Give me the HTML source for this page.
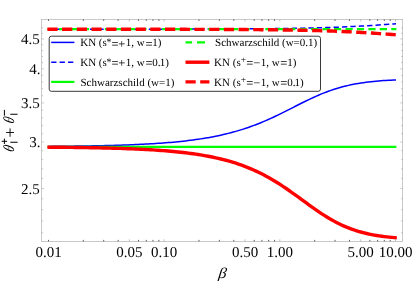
<!DOCTYPE html>
<html><head><meta charset="utf-8"><title>plot</title>
<style>text{text-rendering:geometricPrecision}html,body{margin:0;padding:0;background:#fff;}body{width:413px;height:281px;overflow:hidden;font-family:"Liberation Serif",serif;}</style>
</head><body>
<svg width="413" height="281" viewBox="0 0 413 281" style="display:block;will-change:transform">
<rect width="413" height="281" fill="#fff"/>
<g fill="none" stroke-linecap="butt" stroke-linejoin="round">
<path d="M48.00,146.40 L50.50,146.38 L53.01,146.36 L55.51,146.33 L58.01,146.31 L60.52,146.29 L63.02,146.26 L65.53,146.24 L68.03,146.21 L70.53,146.18 L73.04,146.15 L75.54,146.12 L78.04,146.08 L80.55,146.05 L83.05,146.01 L85.56,145.97 L88.06,145.93 L90.56,145.88 L93.07,145.84 L95.57,145.79 L98.07,145.74 L100.58,145.69 L103.08,145.63 L105.58,145.57 L108.09,145.51 L110.59,145.44 L113.10,145.38 L115.60,145.30 L118.10,145.23 L120.61,145.15 L123.11,145.07 L125.61,144.98 L128.12,144.89 L130.62,144.79 L133.12,144.69 L135.63,144.58 L138.13,144.47 L140.64,144.35 L143.14,144.23 L145.64,144.10 L148.15,143.97 L150.65,143.82 L153.15,143.67 L155.66,143.52 L158.16,143.35 L160.67,143.18 L163.17,142.99 L165.67,142.80 L168.18,142.60 L170.68,142.39 L173.18,142.17 L175.69,141.94 L178.19,141.69 L180.69,141.43 L183.20,141.17 L185.70,140.88 L188.21,140.59 L190.71,140.28 L193.21,139.95 L195.72,139.61 L198.22,139.25 L200.72,138.88 L203.23,138.48 L205.73,138.07 L208.23,137.64 L210.74,137.19 L213.24,136.72 L215.75,136.22 L218.25,135.71 L220.75,135.17 L223.26,134.60 L225.76,134.01 L228.26,133.39 L230.77,132.75 L233.27,132.08 L235.78,131.38 L238.28,130.65 L240.78,129.89 L243.29,129.10 L245.79,128.28 L248.29,127.43 L250.80,126.55 L253.30,125.64 L255.80,124.69 L258.31,123.71 L260.81,122.70 L263.32,121.66 L265.82,120.59 L268.32,119.49 L270.83,118.37 L273.33,117.21 L275.83,116.03 L278.34,114.83 L280.84,113.61 L283.34,112.37 L285.85,111.12 L288.35,109.86 L290.86,108.59 L293.36,107.31 L295.86,106.04 L298.37,104.76 L300.87,103.50 L303.37,102.25 L305.88,101.02 L308.38,99.80 L310.89,98.61 L313.39,97.45 L315.89,96.32 L318.40,95.23 L320.90,94.17 L323.40,93.15 L325.91,92.18 L328.41,91.25 L330.91,90.36 L333.42,89.51 L335.92,88.71 L338.43,87.96 L340.93,87.25 L343.43,86.58 L345.94,85.96 L348.44,85.38 L350.94,84.83 L353.45,84.33 L355.95,83.86 L358.45,83.43 L360.96,83.03 L363.46,82.66 L365.97,82.32 L368.47,82.01 L370.97,81.72 L373.48,81.46 L375.98,81.22 L378.48,81.00 L380.99,80.80 L383.49,80.61 L386.00,80.44 L388.50,80.29 L391.00,80.15 L393.51,80.02 L396.01,79.91" stroke="#0000ff" stroke-width="1.5"/>
<path d="M48.00,29.21 L50.50,29.21 L53.01,29.21 L55.51,29.21 L58.01,29.21 L60.52,29.21 L63.02,29.21 L65.53,29.21 L68.03,29.21 L70.53,29.21 L73.04,29.21 L75.54,29.21 L78.04,29.21 L80.55,29.21 L83.05,29.21 L85.56,29.21 L88.06,29.21 L90.56,29.21 L93.07,29.20 L95.57,29.20 L98.07,29.20 L100.58,29.20 L103.08,29.20 L105.58,29.20 L108.09,29.20 L110.59,29.20 L113.10,29.20 L115.60,29.20 L118.10,29.19 L120.61,29.19 L123.11,29.19 L125.61,29.19 L128.12,29.19 L130.62,29.19 L133.12,29.18 L135.63,29.18 L138.13,29.18 L140.64,29.18 L143.14,29.18 L145.64,29.17 L148.15,29.17 L150.65,29.17 L153.15,29.17 L155.66,29.16 L158.16,29.16 L160.67,29.16 L163.17,29.16 L165.67,29.15 L168.18,29.15 L170.68,29.14 L173.18,29.14 L175.69,29.14 L178.19,29.13 L180.69,29.13 L183.20,29.12 L185.70,29.12 L188.21,29.11 L190.71,29.11 L193.21,29.10 L195.72,29.10 L198.22,29.09 L200.72,29.08 L203.23,29.08 L205.73,29.07 L208.23,29.06 L210.74,29.05 L213.24,29.04 L215.75,29.03 L218.25,29.02 L220.75,29.01 L223.26,29.00 L225.76,28.99 L228.26,28.98 L230.77,28.97 L233.27,28.96 L235.78,28.94 L238.28,28.93 L240.78,28.91 L243.29,28.90 L245.79,28.88 L248.29,28.86 L250.80,28.85 L253.30,28.83 L255.80,28.81 L258.31,28.79 L260.81,28.76 L263.32,28.74 L265.82,28.71 L268.32,28.69 L270.83,28.66 L273.33,28.63 L275.83,28.60 L278.34,28.57 L280.84,28.54 L283.34,28.51 L285.85,28.47 L288.35,28.43 L290.86,28.39 L293.36,28.35 L295.86,28.30 L298.37,28.26 L300.87,28.21 L303.37,28.16 L305.88,28.11 L308.38,28.05 L310.89,27.99 L313.39,27.93 L315.89,27.86 L318.40,27.80 L320.90,27.73 L323.40,27.65 L325.91,27.57 L328.41,27.49 L330.91,27.41 L333.42,27.32 L335.92,27.23 L338.43,27.13 L340.93,27.03 L343.43,26.92 L345.94,26.82 L348.44,26.70 L350.94,26.58 L353.45,26.46 L355.95,26.33 L358.45,26.20 L360.96,26.06 L363.46,25.92 L365.97,25.78 L368.47,25.63 L370.97,25.47 L373.48,25.31 L375.98,25.15 L378.48,24.99 L380.99,24.82 L383.49,24.65 L386.00,24.47 L388.50,24.30 L391.00,24.12 L393.51,23.94 L396.01,23.76" stroke="#0000ff" stroke-width="1.5" stroke-dasharray="5.3 3.1"/>
<path d="M47.60,146.78 L50.11,146.78 L52.62,146.78 L55.13,146.78 L57.64,146.78 L60.15,146.78 L62.66,146.78 L65.17,146.78 L67.68,146.78 L70.18,146.78 L72.69,146.78 L75.20,146.78 L77.71,146.78 L80.22,146.78 L82.73,146.78 L85.24,146.78 L87.75,146.78 L90.26,146.78 L92.77,146.78 L95.28,146.78 L97.79,146.78 L100.30,146.78 L102.81,146.78 L105.32,146.78 L107.83,146.78 L110.34,146.78 L112.85,146.78 L115.35,146.78 L117.86,146.78 L120.37,146.78 L122.88,146.78 L125.39,146.78 L127.90,146.78 L130.41,146.78 L132.92,146.78 L135.43,146.78 L137.94,146.78 L140.45,146.78 L142.96,146.78 L145.47,146.78 L147.98,146.78 L150.49,146.78 L153.00,146.78 L155.51,146.78 L158.01,146.78 L160.52,146.78 L163.03,146.78 L165.54,146.78 L168.05,146.78 L170.56,146.78 L173.07,146.78 L175.58,146.78 L178.09,146.78 L180.60,146.78 L183.11,146.78 L185.62,146.78 L188.13,146.78 L190.64,146.78 L193.15,146.78 L195.66,146.78 L198.17,146.78 L200.67,146.78 L203.18,146.78 L205.69,146.78 L208.20,146.78 L210.71,146.78 L213.22,146.78 L215.73,146.78 L218.24,146.78 L220.75,146.78 L223.26,146.78 L225.77,146.78 L228.28,146.78 L230.79,146.78 L233.30,146.78 L235.81,146.78 L238.32,146.78 L240.83,146.78 L243.34,146.78 L245.84,146.78 L248.35,146.78 L250.86,146.78 L253.37,146.78 L255.88,146.78 L258.39,146.78 L260.90,146.78 L263.41,146.78 L265.92,146.78 L268.43,146.78 L270.94,146.78 L273.45,146.78 L275.96,146.78 L278.47,146.78 L280.98,146.78 L283.49,146.78 L286.00,146.78 L288.50,146.78 L291.01,146.78 L293.52,146.78 L296.03,146.78 L298.54,146.78 L301.05,146.78 L303.56,146.78 L306.07,146.78 L308.58,146.78 L311.09,146.78 L313.60,146.78 L316.11,146.78 L318.62,146.78 L321.13,146.78 L323.64,146.78 L326.15,146.78 L328.66,146.78 L331.16,146.78 L333.67,146.78 L336.18,146.78 L338.69,146.78 L341.20,146.78 L343.71,146.78 L346.22,146.78 L348.73,146.78 L351.24,146.78 L353.75,146.78 L356.26,146.78 L358.77,146.78 L361.28,146.78 L363.79,146.78 L366.30,146.78 L368.81,146.78 L371.32,146.78 L373.83,146.78 L376.33,146.78 L378.84,146.78 L381.35,146.78 L383.86,146.78 L386.37,146.78 L388.88,146.78 L391.39,146.78 L393.90,146.78 L396.41,146.78" stroke="#00ff00" stroke-width="2.2"/>
<path d="M47.60,29.22 L50.11,29.22 L52.62,29.22 L55.13,29.22 L57.64,29.22 L60.15,29.22 L62.66,29.22 L65.17,29.22 L67.68,29.22 L70.18,29.22 L72.69,29.22 L75.20,29.22 L77.71,29.22 L80.22,29.22 L82.73,29.22 L85.24,29.22 L87.75,29.22 L90.26,29.22 L92.77,29.22 L95.28,29.22 L97.79,29.22 L100.30,29.22 L102.81,29.22 L105.32,29.22 L107.83,29.22 L110.34,29.22 L112.85,29.22 L115.35,29.22 L117.86,29.22 L120.37,29.22 L122.88,29.22 L125.39,29.22 L127.90,29.22 L130.41,29.22 L132.92,29.22 L135.43,29.22 L137.94,29.22 L140.45,29.22 L142.96,29.22 L145.47,29.22 L147.98,29.22 L150.49,29.22 L153.00,29.22 L155.51,29.22 L158.01,29.22 L160.52,29.22 L163.03,29.22 L165.54,29.22 L168.05,29.22 L170.56,29.22 L173.07,29.22 L175.58,29.22 L178.09,29.22 L180.60,29.22 L183.11,29.22 L185.62,29.22 L188.13,29.22 L190.64,29.22 L193.15,29.22 L195.66,29.22 L198.17,29.22 L200.67,29.22 L203.18,29.22 L205.69,29.22 L208.20,29.22 L210.71,29.22 L213.22,29.22 L215.73,29.22 L218.24,29.22 L220.75,29.22 L223.26,29.22 L225.77,29.22 L228.28,29.22 L230.79,29.22 L233.30,29.22 L235.81,29.22 L238.32,29.22 L240.83,29.22 L243.34,29.22 L245.84,29.22 L248.35,29.22 L250.86,29.22 L253.37,29.22 L255.88,29.22 L258.39,29.22 L260.90,29.22 L263.41,29.22 L265.92,29.22 L268.43,29.22 L270.94,29.22 L273.45,29.22 L275.96,29.22 L278.47,29.22 L280.98,29.22 L283.49,29.22 L286.00,29.22 L288.50,29.22 L291.01,29.22 L293.52,29.22 L296.03,29.22 L298.54,29.22 L301.05,29.22 L303.56,29.22 L306.07,29.22 L308.58,29.22 L311.09,29.22 L313.60,29.22 L316.11,29.22 L318.62,29.22 L321.13,29.22 L323.64,29.22 L326.15,29.22 L328.66,29.22 L331.16,29.22 L333.67,29.22 L336.18,29.22 L338.69,29.22 L341.20,29.22 L343.71,29.22 L346.22,29.22 L348.73,29.22 L351.24,29.22 L353.75,29.22 L356.26,29.22 L358.77,29.22 L361.28,29.22 L363.79,29.22 L366.30,29.22 L368.81,29.22 L371.32,29.22 L373.83,29.22 L376.33,29.22 L378.84,29.22 L381.35,29.22 L383.86,29.22 L386.37,29.22 L388.88,29.22 L391.39,29.22 L393.90,29.22 L396.41,29.22" stroke="#00ff00" stroke-width="2.2" stroke-dasharray="7.2 4.256"/>
<path d="M47.35,147.16 L49.86,147.18 L52.38,147.20 L54.89,147.23 L57.41,147.25 L59.92,147.27 L62.44,147.30 L64.95,147.32 L67.47,147.35 L69.98,147.38 L72.49,147.41 L75.01,147.44 L77.52,147.48 L80.04,147.51 L82.55,147.55 L85.07,147.59 L87.58,147.63 L90.10,147.68 L92.61,147.72 L95.12,147.77 L97.64,147.82 L100.15,147.87 L102.67,147.93 L105.18,147.99 L107.70,148.05 L110.21,148.12 L112.73,148.19 L115.24,148.26 L117.75,148.33 L120.27,148.41 L122.78,148.50 L125.30,148.59 L127.81,148.68 L130.33,148.78 L132.84,148.88 L135.36,148.99 L137.87,149.10 L140.39,149.22 L142.90,149.35 L145.41,149.48 L147.93,149.62 L150.44,149.76 L152.96,149.92 L155.47,150.08 L157.99,150.25 L160.50,150.43 L163.02,150.62 L165.53,150.81 L168.04,151.02 L170.56,151.24 L173.07,151.47 L175.59,151.71 L178.10,151.97 L180.62,152.24 L183.13,152.52 L185.65,152.81 L188.16,153.13 L190.67,153.45 L193.19,153.80 L195.70,154.16 L198.22,154.54 L200.73,154.94 L203.25,155.36 L205.76,155.81 L208.28,156.27 L210.79,156.76 L213.30,157.27 L215.82,157.81 L218.33,158.38 L220.85,158.98 L223.36,159.60 L225.88,160.26 L228.39,160.95 L230.91,161.67 L233.42,162.43 L235.93,163.23 L238.45,164.06 L240.96,164.94 L243.48,165.85 L245.99,166.81 L248.51,167.81 L251.02,168.86 L253.54,169.95 L256.05,171.09 L258.56,172.28 L261.08,173.52 L263.59,174.80 L266.11,176.14 L268.62,177.52 L271.14,178.96 L273.65,180.44 L276.17,181.97 L278.68,183.55 L281.19,185.17 L283.71,186.83 L286.22,188.53 L288.74,190.26 L291.25,192.03 L293.77,193.82 L296.28,195.63 L298.80,197.46 L301.31,199.29 L303.82,201.13 L306.34,202.97 L308.85,204.79 L311.37,206.60 L313.88,208.39 L316.40,210.14 L318.91,211.86 L321.43,213.54 L323.94,215.17 L326.46,216.75 L328.97,218.27 L331.48,219.73 L334.00,221.13 L336.51,222.47 L339.03,223.74 L341.54,224.94 L344.06,226.08 L346.57,227.15 L349.09,228.15 L351.60,229.09 L354.11,229.97 L356.63,230.79 L359.14,231.55 L361.66,232.26 L364.17,232.91 L366.69,233.51 L369.20,234.07 L371.72,234.58 L374.23,235.05 L376.74,235.48 L379.26,235.88 L381.77,236.24 L384.29,236.57 L386.80,236.88 L389.32,237.15 L391.83,237.40 L394.35,237.64 L396.86,237.84" stroke="#ff0000" stroke-width="3.4"/>
<path d="M47.35,29.23 L49.86,29.23 L52.38,29.23 L54.89,29.23 L57.41,29.23 L59.92,29.23 L62.44,29.23 L64.95,29.23 L67.47,29.23 L69.98,29.23 L72.49,29.23 L75.01,29.23 L77.52,29.23 L80.04,29.23 L82.55,29.23 L85.07,29.23 L87.58,29.24 L90.10,29.24 L92.61,29.24 L95.12,29.24 L97.64,29.24 L100.15,29.24 L102.67,29.24 L105.18,29.24 L107.70,29.24 L110.21,29.24 L112.73,29.24 L115.24,29.25 L117.75,29.25 L120.27,29.25 L122.78,29.25 L125.30,29.25 L127.81,29.25 L130.33,29.25 L132.84,29.26 L135.36,29.26 L137.87,29.26 L140.39,29.26 L142.90,29.26 L145.41,29.27 L147.93,29.27 L150.44,29.27 L152.96,29.27 L155.47,29.28 L157.99,29.28 L160.50,29.28 L163.02,29.29 L165.53,29.29 L168.04,29.29 L170.56,29.30 L173.07,29.30 L175.59,29.30 L178.10,29.31 L180.62,29.31 L183.13,29.32 L185.65,29.32 L188.16,29.33 L190.67,29.33 L193.19,29.34 L195.70,29.35 L198.22,29.35 L200.73,29.36 L203.25,29.37 L205.76,29.37 L208.28,29.38 L210.79,29.39 L213.30,29.40 L215.82,29.41 L218.33,29.42 L220.85,29.43 L223.36,29.44 L225.88,29.45 L228.39,29.46 L230.91,29.47 L233.42,29.49 L235.93,29.50 L238.45,29.51 L240.96,29.53 L243.48,29.55 L245.99,29.56 L248.51,29.58 L251.02,29.60 L253.54,29.62 L256.05,29.64 L258.56,29.66 L261.08,29.68 L263.59,29.71 L266.11,29.73 L268.62,29.76 L271.14,29.78 L273.65,29.81 L276.17,29.84 L278.68,29.88 L281.19,29.91 L283.71,29.94 L286.22,29.98 L288.74,30.02 L291.25,30.06 L293.77,30.10 L296.28,30.15 L298.80,30.20 L301.31,30.24 L303.82,30.30 L306.34,30.35 L308.85,30.41 L311.37,30.47 L313.88,30.53 L316.40,30.60 L318.91,30.67 L321.43,30.74 L323.94,30.82 L326.46,30.90 L328.97,30.98 L331.48,31.07 L334.00,31.16 L336.51,31.25 L339.03,31.35 L341.54,31.46 L344.06,31.56 L346.57,31.68 L349.09,31.80 L351.60,31.92 L354.11,32.05 L356.63,32.18 L359.14,32.32 L361.66,32.46 L364.17,32.60 L366.69,32.76 L369.20,32.91 L371.72,33.07 L374.23,33.24 L376.74,33.41 L379.26,33.58 L381.77,33.76 L384.29,33.94 L386.80,34.12 L389.32,34.30 L391.83,34.49 L394.35,34.67 L396.86,34.86" stroke="#ff0000" stroke-width="3.4" stroke-dasharray="10.2 4.51"/>
</g>
<rect x="41.5" y="19.4" width="361.2" height="222.0" fill="none" stroke="#a6a6a6" stroke-width="0.6"/>
<path d="M129.35,241.4 v-2.1 M129.35,19.4 v2.1 M164.17,241.4 v-2.1 M164.17,19.4 v2.1 M245.02,241.4 v-2.1 M245.02,19.4 v2.1 M279.84,241.4 v-2.1 M279.84,19.4 v2.1 M360.69,241.4 v-2.1 M360.69,19.4 v2.1 M395.51,241.4 v-2.1 M395.51,19.4 v2.1" stroke="#9a9a9a" stroke-width="0.6" fill="none"/>
<path d="M48.50,241.4 v-1.5 M48.50,19.4 v1.5 M83.32,241.4 v-1.5 M83.32,19.4 v1.5 M103.69,241.4 v-1.5 M103.69,19.4 v1.5 M118.14,241.4 v-1.5 M118.14,19.4 v1.5 M138.51,241.4 v-1.5 M138.51,19.4 v1.5 M146.25,241.4 v-1.5 M146.25,19.4 v1.5 M152.96,241.4 v-1.5 M152.96,19.4 v1.5 M158.88,241.4 v-1.5 M158.88,19.4 v1.5 M198.99,241.4 v-1.5 M198.99,19.4 v1.5 M219.36,241.4 v-1.5 M219.36,19.4 v1.5 M233.81,241.4 v-1.5 M233.81,19.4 v1.5 M254.18,241.4 v-1.5 M254.18,19.4 v1.5 M261.92,241.4 v-1.5 M261.92,19.4 v1.5 M268.63,241.4 v-1.5 M268.63,19.4 v1.5 M274.55,241.4 v-1.5 M274.55,19.4 v1.5 M314.66,241.4 v-1.5 M314.66,19.4 v1.5 M335.03,241.4 v-1.5 M335.03,19.4 v1.5 M349.48,241.4 v-1.5 M349.48,19.4 v1.5 M369.85,241.4 v-1.5 M369.85,19.4 v1.5 M377.59,241.4 v-1.5 M377.59,19.4 v1.5 M384.30,241.4 v-1.5 M384.30,19.4 v1.5 M390.22,241.4 v-1.5 M390.22,19.4 v1.5" stroke="#4a4a4a" stroke-width="0.9" fill="none"/>
<path d="M41.5,232.76 h1.6 M402.7,232.76 h-1.6 M41.5,220.93 h1.6 M402.7,220.93 h-1.6 M41.5,209.63 h1.6 M402.7,209.63 h-1.6 M41.5,198.81 h1.6 M402.7,198.81 h-1.6 M41.5,188.42 h2.5 M402.7,188.42 h-2.5 M41.5,178.45 h1.6 M402.7,178.45 h-1.6 M41.5,168.85 h1.6 M402.7,168.85 h-1.6 M41.5,159.60 h1.6 M402.7,159.60 h-1.6 M41.5,150.68 h1.6 M402.7,150.68 h-1.6 M41.5,142.06 h2.5 M402.7,142.06 h-2.5 M41.5,133.72 h1.6 M402.7,133.72 h-1.6 M41.5,125.65 h1.6 M402.7,125.65 h-1.6 M41.5,117.82 h1.6 M402.7,117.82 h-1.6 M41.5,110.23 h1.6 M402.7,110.23 h-1.6 M41.5,102.86 h2.5 M402.7,102.86 h-2.5 M41.5,95.70 h1.6 M402.7,95.70 h-1.6 M41.5,88.73 h1.6 M402.7,88.73 h-1.6 M41.5,81.95 h1.6 M402.7,81.95 h-1.6 M41.5,75.34 h1.6 M402.7,75.34 h-1.6 M41.5,68.90 h2.5 M402.7,68.90 h-2.5 M41.5,62.62 h1.6 M402.7,62.62 h-1.6 M41.5,56.49 h1.6 M402.7,56.49 h-1.6 M41.5,50.51 h1.6 M402.7,50.51 h-1.6 M41.5,44.66 h1.6 M402.7,44.66 h-1.6 M41.5,38.95 h2.5 M402.7,38.95 h-2.5 M41.5,33.36 h1.6 M402.7,33.36 h-1.6 M41.5,27.89 h1.6 M402.7,27.89 h-1.6" stroke="#a6a6a6" stroke-width="0.6" fill="none"/>
<g font-family="'Liberation Serif', serif" font-size="15" fill="#000">
<text x="39.7" y="44.10" text-anchor="end">4.5</text>
<text x="40.4" y="74.05" text-anchor="end">4.</text>
<text x="39.7" y="108.01" text-anchor="end">3.5</text>
<text x="40.4" y="147.21" text-anchor="end">3.</text>
<text x="39.7" y="193.57" text-anchor="end">2.5</text>
<text x="48.50" y="257" text-anchor="middle">0.01</text>
<text x="129.35" y="257" text-anchor="middle">0.05</text>
<text x="164.17" y="257" text-anchor="middle">0.10</text>
<text x="245.02" y="257" text-anchor="middle">0.50</text>
<text x="279.84" y="257" text-anchor="middle">1.00</text>
<text x="360.69" y="257" text-anchor="middle">5.00</text>
<text x="395.51" y="257" text-anchor="middle">10.00</text>
</g>
<g font-family="'Liberation Serif', serif" fill="#000">
<text transform="translate(218.0,277.5) skewX(-7) scale(1.08,1)" font-size="15" font-style="italic">β</text>
<g transform="translate(8.7,148.1) rotate(-90) skewX(-19.8)"><path d="M-2.55,0 A2.55,5.5 0 1 0 2.55,0 A2.55,5.5 0 1 0 -2.55,0 Z M-1.35,0 A1.35,4.85 0 1 0 1.35,0 A1.35,4.85 0 1 0 -1.35,0 Z" fill="#000" fill-rule="evenodd"/><path d="M-1.4,0 H1.4" stroke="#444" stroke-width="0.6"/></g>
<g transform="translate(8.7,119.7) rotate(-90) skewX(-19.8)"><path d="M-2.55,0 A2.55,5.5 0 1 0 2.55,0 A2.55,5.5 0 1 0 -2.55,0 Z M-1.35,0 A1.35,4.85 0 1 0 1.35,0 A1.35,4.85 0 1 0 -1.35,0 Z" fill="#000" fill-rule="evenodd"/><path d="M-1.4,0 H1.4" stroke="#444" stroke-width="0.6"/></g>
<path d="M10.3,142.2 H17.6 M10.3,114.2 H17.6" stroke="#000" stroke-width="1.1" fill="none"/>
<path d="M1.7,141.3 H7.1 M4.4,138.6 V144.0 M4.4,109.9 V115.7" stroke="#000" stroke-width="1" fill="none"/>
<path d="M6.1,132.5 H14.0 M10.06,128.4 V136.8" stroke="#000" stroke-width="0.9" fill="none"/>
</g>
<rect x="49.2" y="36.2" width="271.3" height="55.1" rx="2.2" ry="2.2" fill="#fff" stroke="#222" stroke-width="0.9"/>
<g fill="none">
<path d="M51.2,42.4 H74.4" stroke="#0000ff" stroke-width="1.5"/>
<path d="M51.2,62.2 H74.4" stroke="#0000ff" stroke-width="1.5" stroke-dasharray="5.3 3.1"/>
<path d="M51.2,81.9 H74.4" stroke="#00ff00" stroke-width="2.2"/>
<path d="M185.5,42.4 H192.1 M197,42.4 H205" stroke="#00ff00" stroke-width="2.2"/>
<path d="M185.5,62.2 H209.4" stroke="#ff0000" stroke-width="3.4"/>
<path d="M185.5,81.9 H209.4" stroke="#ff0000" stroke-width="3.4" stroke-dasharray="10.2 4.51"/>
</g>
<g font-family="'Liberation Serif', serif" font-size="11" fill="#000">
<text x="80.2" y="46.1">KN (s<tspan dy="-1.4" dx="-0.2" font-size="10">*</tspan><tspan dy="2.80" dx="-0.2" font-size="12.5">=</tspan><tspan dx="-0.1" font-size="12.5">+</tspan><tspan dy="-1.4" dx="0.4">1, w</tspan><tspan dy="1.4" dx="0.65" font-size="12.5">=</tspan><tspan dy="-1.4" dx="-0.2">1)</tspan></text>
<text x="80.2" y="65.9">KN (s<tspan dy="-1.4" dx="-0.2" font-size="10">*</tspan><tspan dy="2.80" dx="-0.2" font-size="12.5">=</tspan><tspan dx="-0.1" font-size="12.5">+</tspan><tspan dy="-1.4" dx="0.4">1, w</tspan><tspan dy="1.4" dx="0.65" font-size="12.5">=</tspan><tspan dy="-1.4" dx="-0.2">0.</tspan><tspan dx="-0.9">1)</tspan></text>
<text x="80.5" y="85.60000000000001">Schwarzschild (w=1)</text>
<text x="215.1" y="46.1">Schwarzschild (w=0.1)</text>
<text x="214.1" y="65.9">KN (s<tspan dy="-2.6" dx="0" font-size="9.5">+</tspan><tspan dy="4.00" dx="0.2" font-size="12.5">=</tspan><tspan dx="-0.1" font-size="12.5">−</tspan><tspan dy="-1.4" dx="0.4">1, w</tspan><tspan dy="1.4" dx="0.65" font-size="12.5">=</tspan><tspan dy="-1.4" dx="-0.2">1)</tspan></text>
<text x="214.1" y="85.60000000000001">KN (s<tspan dy="-2.6" dx="0" font-size="9.5">+</tspan><tspan dy="4.00" dx="0.2" font-size="12.5">=</tspan><tspan dx="-0.1" font-size="12.5">−</tspan><tspan dy="-1.4" dx="0.4">1, w</tspan><tspan dy="1.4" dx="0.65" font-size="12.5">=</tspan><tspan dy="-1.4" dx="-0.2">0.</tspan><tspan dx="-0.9">1)</tspan></text>
</g>
</svg>
</body></html>
